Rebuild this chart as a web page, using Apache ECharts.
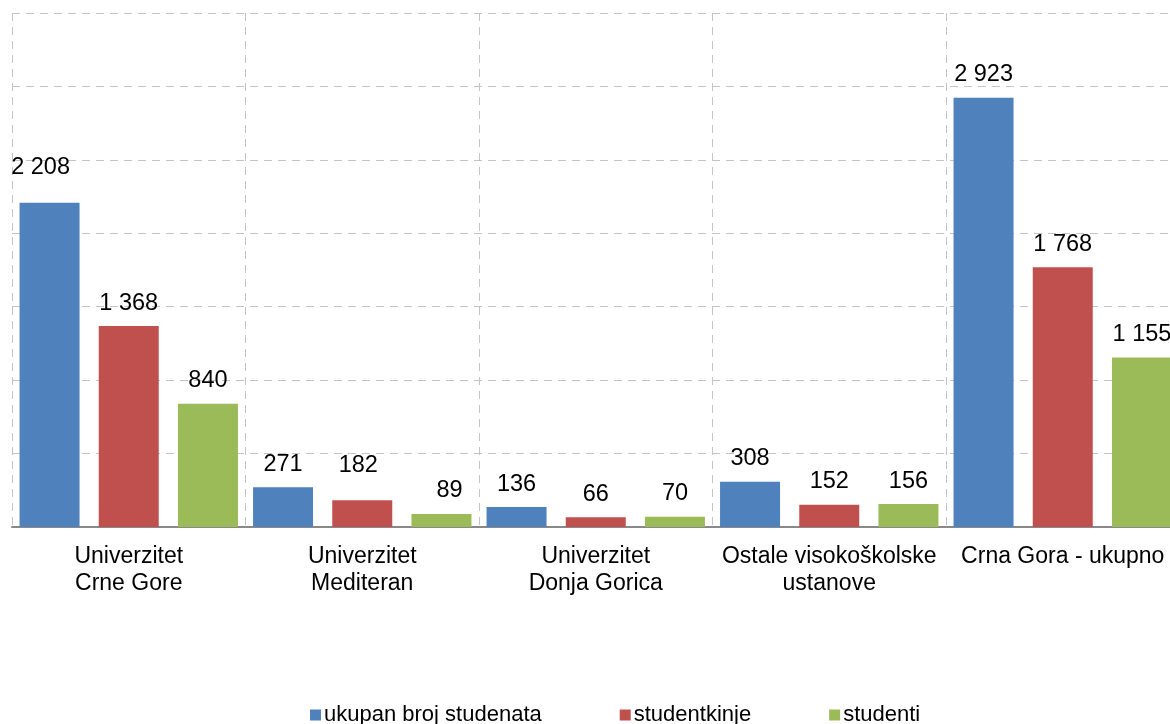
<!DOCTYPE html>
<html>
<head>
<meta charset="utf-8">
<script src="https://cdn.jsdelivr.net/npm/echarts@6/dist/echarts.min.js"></script>
<style>
html,body{margin:0;padding:0;background:#fff;}
#chart{width:1170px;height:724px;}
</style>
</head>
<body>
<div id="chart"></div>
<script>
var categories = ['Univerzitet\nCrne Gore', 'Univerzitet\nMediteran', 'Univerzitet\nDonja Gorica', 'Ostale visokoškolske\nustanove', 'Crna Gora - ukupno'];
var seriesNames = ['ukupan broj studenata', 'studentkinje', 'studenti'];
var ukupno = [2208, 271, 136, 308, 2923];
var studentkinje = [1368, 182, 66, 152, 1768];
var studenti = [840, 89, 70, 156, 1155];
var yMin = 0, yMax = 3500, yStep = 500;

var colors = ['#4F81BD', '#C0504D', '#9BBB59'];
var labelTweaks = { '0-0': [-9, -12], '1-1': [-4, -12], '2-1': [8, 0] };
var FONT = '"Liberation Sans", Arial, sans-serif';

function fmt(v) { return String(v).replace(/\B(?=(\d{3})+(?!\d))/g, ' '); }

var allData = [ukupno, studentkinje, studenti];
var series = allData.map(function (arr, si) {
  return {
    name: seriesNames[si],
    type: 'bar',
    barWidth: 60,
    barGap: '32%',
    itemStyle: { color: colors[si] },
    label: {
      show: true, position: 'top', distance: 11,
      color: '#000', fontFamily: FONT, fontSize: 23.5,
      formatter: function (p) { return fmt(p.value); }
    },
    data: arr.map(function (v, i) {
      var t = labelTweaks[si + '-' + i];
      return t ? { value: v, label: { offset: t } } : v;
    })
  };
});

var chart = echarts.init(document.getElementById('chart'));
chart.setOption({
  animation: false,
  color: colors,
  grid: { left: 12, top: 13, width: 1167.5, height: 514, containLabel: false, outerBoundsMode: 'none' },
  legend: {
    top: 699, left: 305,
    itemWidth: 11, itemHeight: 11, itemGap: 78,
    icon: 'rect',
    textStyle: { fontFamily: FONT, fontSize: 22, color: '#000', padding: [0, 0, 0, -2] },
    data: seriesNames
  },
  xAxis: {
    type: 'category',
    data: categories,
    axisLine: { show: true, lineStyle: { color: '#898989', width: 2 } },
    axisTick: { show: false },
    axisLabel: { interval: 0, color: '#000', fontFamily: FONT, fontSize: 23, lineHeight: 27, margin: 16 },
    splitLine: { show: true, interval: 0, lineStyle: { type: [8, 6], color: '#c4c4c4', width: 1 } }
  },
  yAxis: {
    type: 'value', min: yMin, max: yMax, interval: yStep,
    axisLine: { show: false }, axisTick: { show: false }, axisLabel: { show: false },
    splitLine: { show: true, lineStyle: { type: [8, 6], color: '#c4c4c4', width: 1 } }
  },
  series: series
});
</script>
</body>
</html>
